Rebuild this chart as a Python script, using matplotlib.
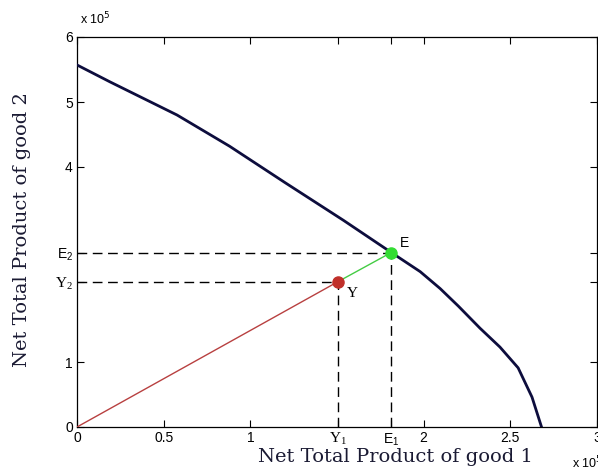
import matplotlib
matplotlib.use("Agg")
import matplotlib.pyplot as plt
import numpy as np

# Production possibility frontier (units of 1e5)
frontier_x = [0, 0.19, 0.577, 0.88, 1.2, 1.537, 1.816, 1.98, 2.095, 2.2, 2.325, 2.44, 2.545, 2.625, 2.68]
frontier_y = [5.57, 5.31, 4.80, 4.32, 3.76, 3.18, 2.68, 2.39, 2.13, 1.86, 1.52, 1.23, 0.91, 0.46, 0.0]

point_E = (1.81, 2.68)
point_Y = (1.505, 2.235)

xticks = [0, 0.5, 1, point_Y[0], point_E[0], 2, 2.5, 3]
xtick_labels = ['0', '0.5', '1', r'$\mathregular{Y_1}$', r'$\mathregular{E_1}$', '2', '2.5', '3']
yticks = [0, 1, point_Y[1], point_E[1], 4, 5, 6]
ytick_labels = ['0', '1', r'$\mathregular{Y_2}$', r'$\mathregular{E_2}$', '4', '5', '6']

plt.rcParams['font.family'] = ['Liberation Sans', 'DejaVu Sans']

fig = plt.figure(figsize=(5.98, 4.70), dpi=100)
ax = fig.add_axes([77/598, 1-427/470, 520/598, 390/470])

ax.plot(frontier_x, frontier_y, color='#0d0d3d', lw=2.0, zorder=3)

# rays
ax.plot([0, point_Y[0]], [0, point_Y[1]], color='#b84040', lw=1.0, zorder=3)
ax.plot([point_Y[0], point_E[0]], [point_Y[1], point_E[1]], color='#44cc44', lw=1.0, zorder=3)

# dashed guides
for (px, py) in [point_E, point_Y]:
    ax.plot([0, px], [py, py], color='black', lw=1.0, dashes=(7, 4), zorder=2)
    ax.plot([px, px], [0, py], color='black', lw=1.0, dashes=(7, 4), zorder=2)

ax.plot(*point_E, 'o', color='#33dd33', ms=8, zorder=5)
ax.plot(*point_Y, 'o', color='#c0302a', ms=8, zorder=5)

ax.text(point_E[0] + 0.05, point_E[1] + 0.05, 'E', fontsize=10, ha='left', va='bottom')
ax.text(point_Y[0] + 0.05, point_Y[1] - 0.08, 'Y', fontsize=11, ha='left', va='top',
        family='Liberation Serif')

ax.set_xlim(0, 3)
ax.set_ylim(0, 6)
ax.set_xticks(xticks)
ax.set_xticklabels(xtick_labels)
ax.set_yticks(yticks)
ax.set_yticklabels(ytick_labels)
ax.tick_params(direction='in', length=5, width=0.8, top=True, right=True,
               labelsize=10, pad=3)
for lbl in ax.get_xticklabels():
    if 'Y' in lbl.get_text():
        lbl.set_family('Liberation Serif')
        lbl.set_fontsize(11)
for lbl in ax.get_yticklabels():
    if 'Y' in lbl.get_text():
        lbl.set_family('Liberation Serif')
        lbl.set_fontsize(11)
for s in ax.spines.values():
    s.set_linewidth(0.9)

label_color = '#1a1a33'
fig.text(395/598, 1-457/470, 'Net Total Product of good 1', ha='center', va='center',
         fontsize=14, family='DejaVu Serif', color=label_color)
fig.text(22/598, 1-230/470, 'Net Total Product of good 2', ha='center', va='center',
         fontsize=14, family='DejaVu Serif', color=label_color, rotation=90)

fig.text(80/598, 1-24/470, r'x 10$^{5}$', ha='left', va='baseline', fontsize=9)
fig.text(572/598, 1-468/470, r'x 10$^{5}$', ha='left', va='baseline', fontsize=9)

fig.savefig('out.png', dpi=100)
